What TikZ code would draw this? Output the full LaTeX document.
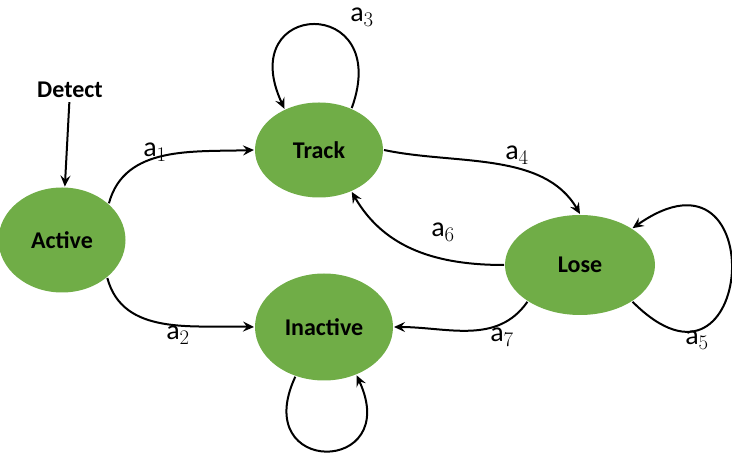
\documentclass[tikz,border=0pt]{standalone}
\usepackage{fontspec}
\setmainfont{Carlito}
\usepackage{tikz}
\usetikzlibrary{arrows.meta}
\usetikzlibrary{shapes.geometric}

\definecolor{stategreen}{HTML}{70AD47}

\begin{document}
\begin{tikzpicture}[x=1pt,y=1pt,line width=2pt,
  state/.style={ellipse,fill=stategreen,inner sep=0pt,font=\fontsize{24}{28}\selectfont\bfseries},
  link/.style={-{Stealth[length=11pt,width=10pt,inset=4pt]}},
  lbl/.style={font=\fontsize{28}{32}\selectfont,inner sep=1pt}]

\useasboundingbox (0,0) rectangle (732,471);

% states
\node[state,minimum width=127,minimum height=105] (act) at (62,231) {Active};
\node[state,minimum width=128,minimum height=95] (trk) at (319,321) {Track};
\node[state,minimum width=150,minimum height=100] (los) at (580,206) {Lose};
\node[state,minimum width=138,minimum height=107] (ina) at (324,144) {Inactive};
\node[font=\fontsize{24}{28}\selectfont\bfseries] (det) at (70,381) {Detect};

% transitions
\draw[link] (det) -- (act);
\draw[link] (act.38) to[out=75,in=182] (trk.180); %a1
\draw[link] (act.-40) to[out=-75,in=178] (ina.180); %a2
\draw[link] (trk.52) to[out=70,in=115,looseness=4.6] (trk.130); %a3
\draw[link] (trk.0) to[out=-12,in=120,looseness=0.9] (los.90); %a4
\draw[link] (los.-35) to[out=-45,in=35,looseness=6] (los.35); %a5
\draw[link] (los.180) to[out=180,in=-60] (trk.-52); %a6
\draw[link] (los.215) to[out=235,in=0] (ina.0); %a7
\draw[link] (ina.-120) to[out=-115,in=-65,looseness=4.6] (ina.-56); %loop

% labels
\node[lbl] (l1) at (155,319) {$\mathrm{a}_1$};
\node[lbl] (l2) at (178,136) {$\mathrm{a}_2$};
\node[lbl] (l3) at (362,454) {$\mathrm{a}_3$};
\node[lbl] (l4) at (517,316) {$\mathrm{a}_4$};
\node[lbl] (l5) at (697,131) {$\mathrm{a}_5$};
\node[lbl] (l6) at (443,239) {$\mathrm{a}_6$};
\node[lbl] (l7) at (502,134) {$\mathrm{a}_7$};

\end{tikzpicture}
\end{document}
